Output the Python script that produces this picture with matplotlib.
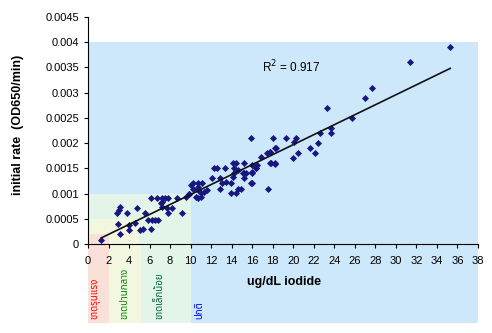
import numpy as np
import matplotlib
matplotlib.use('Agg')
import matplotlib.pyplot as plt
from matplotlib.patches import Rectangle

plt.rcParams['font.family'] = ['Liberation Sans', 'Noto Sans', 'DejaVu Sans']
thai_family = ['Noto Sans Thai', 'Sarabun', 'Athiti', 'DejaVu Sans']

# iodide (ug/dL) and initial rate (OD650/min)
iodide = [1.3, 3.1, 3.0, 2.8, 3.8, 4.8, 2.9, 3.1, 4.0, 4.0, 4.6, 5.1, 5.4, 6.1,
          5.6, 5.8, 6.2, 6.5, 6.8, 6.1, 6.7, 7.2, 7.5, 7.8, 7.1, 7.2, 7.2, 7.7,
          8.2, 7.8, 9.2, 8.7, 9.5, 9.8, 10.2, 10.2, 10.0, 10.7, 10.5,
          10.7, 11.1, 10.7, 11.0, 9.8, 10.7, 11.3, 12.1, 12.9, 12.3, 12.6,
          13.3, 14.1, 14.4, 14.2, 14.6, 14.2, 13.4, 13.1, 14.1, 15.1, 15.2,
          15.2, 13.9, 14.4, 14.9, 16.0, 16.0, 16.4, 16.5, 16.9, 17.4, 17.7,
          17.5, 15.9, 16.0, 15.2, 16.0, 16.4, 17.8, 18.2, 15.9, 11.6, 11.0,
          13.9, 14.6, 15.4, 12.9, 18.0, 19.3, 20.3, 20.1, 22.4, 21.6, 22.1,
          20.5, 20.0, 18.2, 18.3, 17.7, 17.7, 18.2, 22.6, 23.7, 23.7, 25.7,
          23.3, 27.0, 27.7, 31.4, 35.3]
rate = [0.00008, 0.00074, 0.00067, 0.00061, 0.00061, 0.00071, 0.00040, 0.00020,
        0.00038, 0.00028, 0.00041, 0.00028, 0.00030, 0.00030, 0.00061, 0.00048,
        0.00048, 0.00048, 0.00048, 0.00091, 0.00091, 0.00091, 0.00091, 0.00091,
        0.00081, 0.00084, 0.00074, 0.00071, 0.00071, 0.00062, 0.00062, 0.00091,
        0.00094, 0.00100, 0.00120, 0.00110, 0.00117, 0.00113, 0.00094,
        0.00120, 0.00120, 0.00107, 0.00102, 0.00099, 0.00092, 0.00104, 0.00130,
        0.00110, 0.00150, 0.00150, 0.00150, 0.00160, 0.00160, 0.00150, 0.00147,
        0.00140, 0.00123, 0.00120, 0.00133, 0.00140, 0.00130, 0.00160, 0.00102,
        0.00102, 0.00110, 0.00121, 0.00143, 0.00150, 0.00156, 0.00173, 0.00180,
        0.00183, 0.00110, 0.00210, 0.00156, 0.00140, 0.00140, 0.00150, 0.00160,
        0.00160, 0.00120, 0.00107, 0.00094, 0.00120, 0.00110, 0.00140, 0.00130,
        0.00210, 0.00210, 0.00210, 0.00203, 0.00200, 0.00190, 0.00181, 0.00181,
        0.00171, 0.00190, 0.00190, 0.00182, 0.00160, 0.00158, 0.00220, 0.00230,
        0.00220, 0.00249, 0.00270, 0.00290, 0.00310, 0.00360, 0.00390]

# background bands: (x from, x to, y top, colour)
band_x0 = [0, 0, 0, 0]
band_x1 = [38, 10, 5, 2]
band_top = [0.004, 0.001, 0.0005, 0.0002]
band_colors = ['#cce8fa', '#e2f5e8', '#f1f8df', '#f9e0d8']

# bands under the x axis
low_x0 = [0, 2, 5.2, 10]
low_x1 = [2, 5.2, 10, 38]
low_colors = ['#f9e0d8', '#f1f8df', '#e2f5e8', '#cce8fa']
low_bottom = -0.00156

thai_labels = ['ขาดรุนแรง', 'ขาดปานกลาง', 'ขาดเล็กน้อย', 'ปกติ']
thai_x = [0.75, 3.65, 7.0, 10.9]
thai_colors = ['#ff0000', '#008000', '#006633', '#0000ff']

fig = plt.figure(figsize=(4.92, 3.33), dpi=100)
ax = fig.add_axes([88 / 492, 89 / 333, 390 / 492, 227 / 333])

for x0, x1, top, c in zip(band_x0, band_x1, band_top, band_colors):
    ax.add_patch(Rectangle((x0, 0), x1 - x0, top, color=c, lw=0, zorder=0))
for x0, x1, c in zip(low_x0, low_x1, low_colors):
    ax.add_patch(Rectangle((x0, low_bottom), x1 - x0, -low_bottom, color=c,
                           lw=0, zorder=0, clip_on=False))

for lab, x, c in zip(thai_labels, thai_x, thai_colors):
    ax.text(x, -0.00148, lab, rotation=90, ha='center', va='bottom', color=c,
            fontsize=7, fontweight='bold', family=thai_family, clip_on=False)

ax.scatter(iodide, rate, marker='D', s=13, color='#17177f', zorder=3, lw=0)

# linear trend line
coef = np.polyfit(iodide, rate, 1)
xs = np.array([min(iodide), max(iodide)])
ax.plot(xs, np.polyval(coef, xs), color='#111111', lw=1.2, zorder=4)

ax.text(17.0, 0.0035, 'R$^2$ = 0.917', fontsize=8.5, va='center', ha='left')

ax.set_xlim(0, 38)
ax.set_ylim(0, 0.0045)
ax.set_xticks(range(0, 39, 2))
ax.set_yticks(np.arange(0, 0.00451, 0.0005))
ax.set_yticklabels(['0', '0.0005', '0.001', '0.0015', '0.002', '0.0025',
                    '0.003', '0.0035', '0.004', '0.0045'])
ax.tick_params(axis='both', labelsize=8, direction='out', length=3, width=0.8)
ax.tick_params(axis='x', pad=6)
for s in ['top', 'right']:
    ax.spines[s].set_visible(False)
ax.set_facecolor('white')

fig.text(18 / 492, 1 - 125 / 333, 'initial rate  (OD650/min)', rotation=90,
         ha='center', va='center', fontsize=9, fontweight='bold')
fig.text(284 / 492, 1 - 282 / 333, 'ug/dL iodide', ha='center', va='center',
         fontsize=9, fontweight='bold')

fig.savefig('out.png', dpi=100)
